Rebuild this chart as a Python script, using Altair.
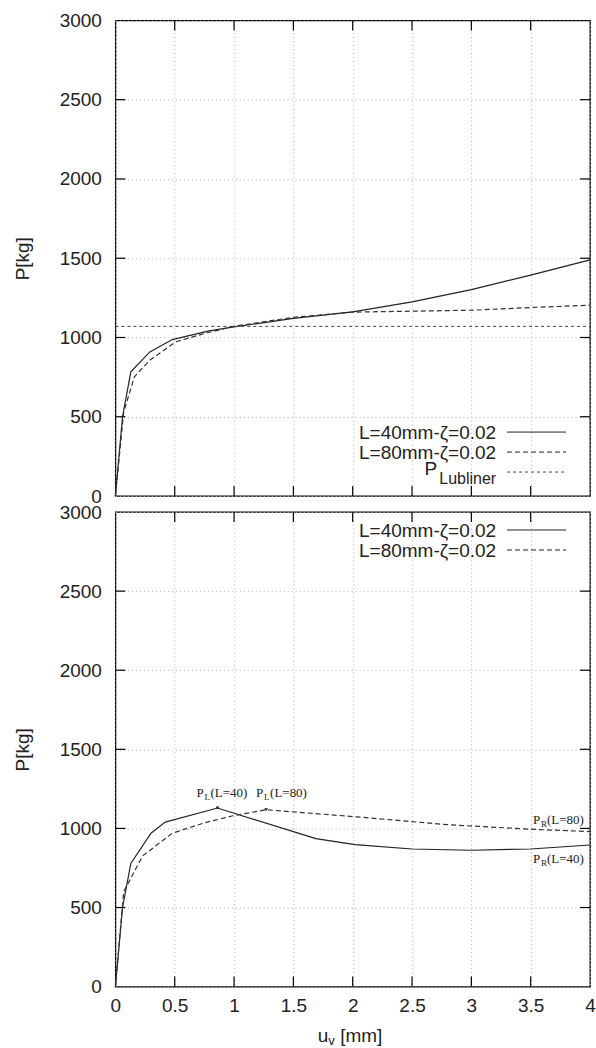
import altair as alt
import pandas as pd

# ---------------- data ----------------
top_u40 = [0, 0.06, 0.13, 0.29, 0.48, 0.79, 1.0, 1.5, 2.0, 2.5, 3.0, 3.5, 4.0]
top_p40 = [0, 500, 783, 909, 987, 1042, 1067, 1120, 1162, 1225, 1302, 1393, 1490]
top_u80 = [0, 0.07, 0.16, 0.29, 0.51, 0.75, 1.0, 1.5, 2.0, 2.5, 3.0, 3.5, 4.0]
top_p80 = [0, 530, 752, 857, 973, 1025, 1071, 1127, 1160, 1166, 1172, 1189, 1204]
p_lubliner = 1070

bot_u40 = [0, 0.06, 0.13, 0.30, 0.42, 0.86, 1.69, 2.02, 2.5, 3.0, 3.5, 4.0]
bot_p40 = [0, 500, 779, 970, 1040, 1129, 935, 897, 870, 862, 870, 895]
bot_u80 = [0, 0.07, 0.23, 0.48, 0.75, 0.99, 1.27, 2.0, 2.81, 3.5, 4.0]
bot_p80 = [0, 600, 827, 970, 1035, 1080, 1118, 1075, 1023, 995, 980]

peak_u = [0.86, 1.27]
peak_p = [1129, 1118]

x_ticks = [0, 0.5, 1, 1.5, 2, 2.5, 3, 3.5, 4]
y_ticks = [0, 500, 1000, 1500, 2000, 2500, 3000]
inner_x_ticks = [0.5, 1, 1.5, 2, 2.5, 3, 3.5]
inner_y_ticks = [500, 1000, 1500, 2000, 2500]

legend_labels = ["L=40mm-ζ=0.02", "L=80mm-ζ=0.02"]

# ---------------- layout / style ----------------
W = 475
H1 = 476
H2 = 475
SANS = "Liberation Sans"
SERIF = "Liberation Serif"
FS = 19

xscale = alt.Scale(domain=[0, 4], nice=False, zero=False)
yscale = alt.Scale(domain=[0, 3000], nice=False)


def xenc(show_labels):
    return alt.X(
        "u:Q",
        scale=xscale,
        axis=alt.Axis(
            values=x_ticks,
            labels=show_labels,
            title=None,
            ticks=False,
            tickSize=0,
            domain=False,
            grid=True,
            gridColor="#b0b0b0",
            gridDash=[1, 3],
            gridWidth=1,
            labelFont=SANS,
            labelFontSize=FS,
            labelColor="#222",
            labelPadding=10,
            labelFlush=False,
            labelOverlap=False,
            format="~g",
        ),
    )


def yenc():
    return alt.Y(
        "P:Q",
        scale=yscale,
        axis=alt.Axis(
            values=y_ticks,
            format="d",
            title="P[kg]",
            titleFont=SANS,
            titleFontSize=FS,
            titleFontWeight="normal",
            titleColor="#222",
            titlePadding=27,
            ticks=False,
            tickSize=0,
            domain=False,
            grid=True,
            gridColor="#b0b0b0",
            gridDash=[1, 3],
            gridWidth=1,
            labelFont=SANS,
            labelFontSize=FS,
            labelColor="#222",
            labelPadding=14,
            labelOverlap=False,
            labelFlush=False,
        ),
    )


def series_df(us, ps):
    return pd.DataFrame({"u": us, "P": ps})


def tick_layers(H, show_labels):
    xt = pd.DataFrame({"u": inner_x_ticks})
    yt = pd.DataFrame({"P": inner_y_ticks})
    return [
        alt.Chart(xt).mark_rule(color="black", strokeWidth=1.2).encode(
            x=xenc(show_labels), y=alt.value(H), y2=alt.value(H - 10)),
        alt.Chart(xt).mark_rule(color="black", strokeWidth=1.2).encode(
            x=xenc(show_labels), y=alt.value(0), y2=alt.value(10)),
        alt.Chart(yt).mark_rule(color="black", strokeWidth=1.2).encode(
            y=yenc(), x=alt.value(0), x2=alt.value(10)),
        alt.Chart(yt).mark_rule(color="black", strokeWidth=1.2).encode(
            y=yenc(), x=alt.value(W - 10), x2=alt.value(W)),
    ]


one = pd.DataFrame({"k": [0]})


def legend_entry(label, y, dash):
    t = alt.Chart(one).mark_text(
        text=label, align="right", baseline="middle", font=SANS, fontSize=FS, color="#222"
    ).encode(x=alt.value(381), y=alt.value(y + 1))
    r = alt.Chart(one).mark_rule(
        color="#222", strokeWidth=1, **({"strokeDash": dash} if dash else {})
    ).encode(x=alt.value(392), x2=alt.value(451), y=alt.value(y))
    return [t, r]


# ---------------- top panel ----------------
top_layers = [
    alt.Chart(series_df(top_u40, top_p40)).mark_line(color="#222", strokeWidth=1.2).encode(
        x=xenc(False), y=yenc()),
    alt.Chart(series_df(top_u80, top_p80)).mark_line(color="#333", strokeWidth=1.2, strokeDash=[5, 3]).encode(
        x=xenc(False), y=yenc()),
    alt.Chart(pd.DataFrame({"P": [p_lubliner]})).mark_rule(color="#444", strokeWidth=1, strokeDash=[3, 3]).encode(
        y=yenc(), x=alt.value(0), x2=alt.value(W)),
]
top_layers += tick_layers(H1, False)
top_layers += legend_entry(legend_labels[0], 412, None)
top_layers += legend_entry(legend_labels[1], 432, [5, 3])
top_layers += [
    alt.Chart(one).mark_text(text="P", align="right", baseline="middle", font=SANS,
                             fontSize=FS, color="#222").encode(x=alt.value(322), y=alt.value(449)),
    alt.Chart(one).mark_text(text="Lubliner", align="right", baseline="middle", font=SANS,
                             fontSize=16, color="#222").encode(x=alt.value(381), y=alt.value(459)),
    alt.Chart(one).mark_rule(color="#444", strokeWidth=1, strokeDash=[3, 3]).encode(
        x=alt.value(392), x2=alt.value(451), y=alt.value(452)),
]
top = alt.layer(*top_layers).properties(width=W, height=H1)

# ---------------- bottom panel ----------------
bot_layers = [
    alt.Chart(series_df(bot_u40, bot_p40)).mark_line(color="#222", strokeWidth=1.2).encode(
        x=xenc(True), y=yenc()),
    alt.Chart(series_df(bot_u80, bot_p80)).mark_line(color="#333", strokeWidth=1.2, strokeDash=[5, 3]).encode(
        x=xenc(True), y=yenc()),
    alt.Chart(series_df(peak_u, peak_p)).mark_point(shape="triangle-down", filled=True, size=14,
                                                    color="#222", opacity=1).encode(
        x=xenc(True), y=yenc()),
]
bot_layers += tick_layers(H2, True)
bot_layers += legend_entry(legend_labels[0], 18, None)
bot_layers += legend_entry(legend_labels[1], 38, [5, 3])


def annot(u, p, sub, rest, dx0):
    d = series_df([u], [p])
    return [
        alt.Chart(d).mark_text(text="P", align="left", baseline="alphabetic", font=SERIF,
                               fontSize=13, color="#222", dx=dx0).encode(x=xenc(True), y=yenc()),
        alt.Chart(d).mark_text(text=sub, align="left", baseline="alphabetic", font=SERIF,
                               fontSize=9, color="#222", dx=dx0 + 8, dy=3).encode(x=xenc(True), y=yenc()),
        alt.Chart(d).mark_text(text=rest, align="left", baseline="alphabetic", font=SERIF,
                               fontSize=13, color="#222", dx=dx0 + 14).encode(x=xenc(True), y=yenc()),
    ]


bot_layers += annot(0.86, 1200, "L", "(L=40)", -21)
bot_layers += annot(1.27, 1200, "L", "(L=80)", -10)
bot_layers += annot(4.0, 1030, "R", "(L=80)", -57)
bot_layers += annot(4.0, 780, "R", "(L=40)", -57)

# x-axis title u_v [mm]
bot_layers += [
    alt.Chart(one).mark_text(text="u", align="right", baseline="alphabetic", font=SANS,
                             fontSize=FS, color="#222").encode(x=alt.value(213), y=alt.value(H2 + 55)),
    alt.Chart(one).mark_text(text="v", align="left", baseline="alphabetic", font=SANS,
                             fontSize=13, color="#222").encode(x=alt.value(213), y=alt.value(H2 + 58)),
    alt.Chart(one).mark_text(text="[mm]", align="left", baseline="alphabetic", font=SANS,
                             fontSize=FS, color="#222").encode(x=alt.value(225), y=alt.value(H2 + 55)),
]
bot = alt.layer(*bot_layers).properties(width=W, height=H2)

chart = (
    alt.vconcat(top, bot, spacing=16, bounds="flush")
    .properties(padding={"left": 12.5, "top": 10, "right": 0, "bottom": 0}, background="white")
    .configure_view(stroke="black", strokeWidth=1.3)
)

chart.save("out.html", embed_options={"renderer": "svg", "actions": False})
